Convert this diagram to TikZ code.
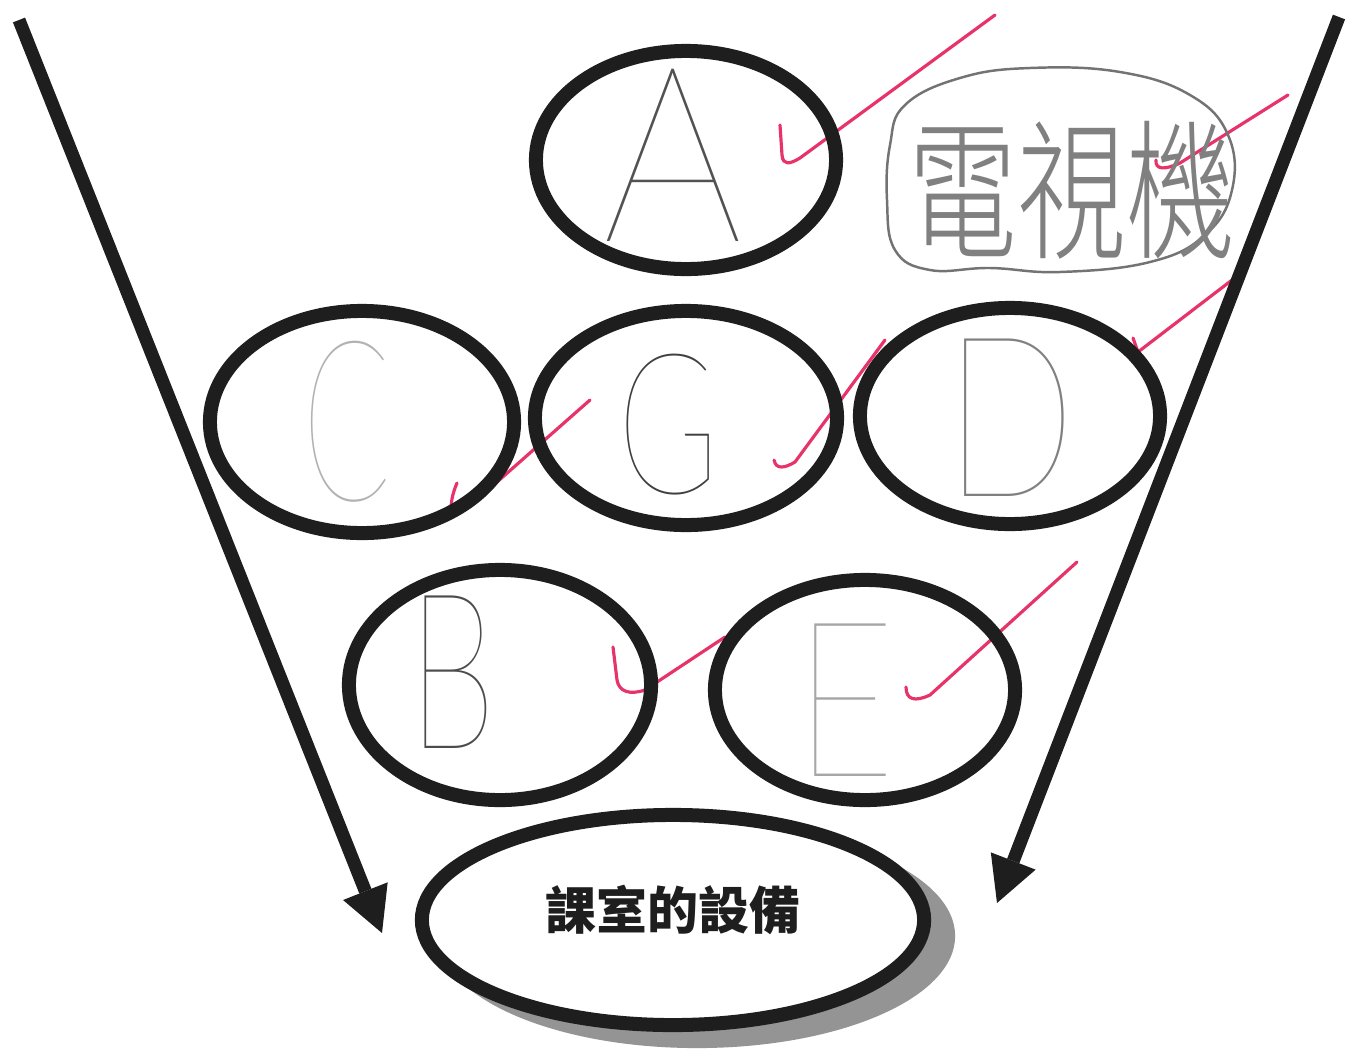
\documentclass[tikz,border=0pt]{standalone}
\usepackage{fontspec}
\usepackage{graphicx}
\usetikzlibrary{shapes.geometric,arrows.meta}
\IfFontExistsTF{Lato Hairline}{\newfontfamily\handfont{Lato Hairline}}{%
 \IfFontExistsTF{Lato Light}{\newfontfamily\handfont{Lato Light}}{%
  \IfFontExistsTF{Fira Sans Light}{\newfontfamily\handfont{Fira Sans Light}}{%
   \newfontfamily\handfont{Liberation Sans}}}}
\IfFontExistsTF{Noto Sans CJK TC Light}{\newfontfamily\cjklight{Noto Sans CJK TC Light}}{%
 \IfFontExistsTF{Noto Sans CJK TC DemiLight}{\newfontfamily\cjklight{Noto Sans CJK TC DemiLight}}{%
  \newfontfamily\cjklight{Noto Sans CJK TC}}}
\newfontfamily\cjk{Noto Sans CJK TC}
\definecolor{ink}{HTML}{1E1E1E}
\definecolor{redpen}{HTML}{E8336A}
\begin{document}
\begin{tikzpicture}[x=0.01cm,y=-0.01cm,
  ring/.style={draw=ink, line width=0.14cm, ellipse, inner sep=0pt},
  bigarrow/.style={draw=ink, line width=0.13cm, -{Triangle[length=0.45cm,width=0.48cm,line width=0pt]}},
  tick/.style={draw=redpen, line width=0.9pt, line cap=round, line join=round},
  pencil/.style={inner sep=0pt}
]
\useasboundingbox[fill=white] (0,0) rectangle (1351,1054);

% red check marks (under the rings)
\draw[tick] (780,125) -- (782,155) .. controls (783,166) and (790,164) .. (800,158) -- (995,15);
\draw[tick] (1156,160) .. controls (1155,170) and (1165,170) .. (1180,163) -- (1288,95);
\draw[tick] (1133,338) -- (1138,352) -- (1232,280);
\draw[tick] (774,460) .. controls (776,470) and (785,468) .. (795,462) -- (885,340);
\draw[tick] (457,483) .. controls (452,495) and (450,505) .. (452,513) .. controls (460,512) and (470,505) .. (480,497) -- (590,400);
\draw[tick] (613,647) -- (617,680) .. controls (619,692) and (630,695) .. (645,690) -- (725,637);
\draw[tick] (906,687) .. controls (906,700) and (915,702) .. (930,695) -- (1077,562);

% rings
\node[ring, minimum width=3.00cm, minimum height=2.18cm] (A) at (686,160) {};
\node[ring, minimum width=3.04cm, minimum height=2.22cm] (C) at (362,422) {};
\node[ring, minimum width=3.02cm, minimum height=2.14cm] (G) at (686,418) {};
\node[ring, minimum width=3.00cm, minimum height=2.16cm] (D) at (1010,416) {};
\node[ring, minimum width=3.02cm, minimum height=2.30cm] (B) at (500,685) {};
\node[ring, minimum width=3.00cm, minimum height=2.20cm] (E) at (865,690) {};

% pencil letters
\node[pencil, text=black!68, font=\handfont\fontsize{70}{70}\selectfont] (tA) at (673,155) {\scalebox{0.9}[1]{A}};
\node[pencil, text=black!30, font=\handfont\fontsize{64}{64}\selectfont] (tC) at (347,422) {\scalebox{0.58}[1]{C}};
\node[pencil, text=black!75, font=\handfont\fontsize{56}{56}\selectfont] (tG) at (668,425) {\scalebox{0.7}[1]{G}};
\node[pencil, text=black!50, font=\handfont\fontsize{64}{64}\selectfont] (tD) at (1010,418) {\scalebox{0.77}[1]{D}};
\node[pencil, text=black!70, font=\handfont\fontsize{62}{62}\selectfont] (tB) at (452,672) {\scalebox{0.65}[1]{B}};
\node[pencil, text=black!35, font=\handfont\fontsize{62}{62}\selectfont] (tE) at (845,700) {\scalebox{0.8}[1]{E}};

% pencil cloud with TV
\draw[draw=black!55, line width=0.7pt] plot[smooth cycle, tension=0.7] coordinates {(905,105) (960,78) (1030,68) (1120,72) (1190,95) (1228,135) (1232,190) (1205,235) (1150,262) (1060,272) (990,268) (930,270) (895,250) (887,200) (890,145)};
\node[pencil, text=black!50, font=\cjklight\fontsize{43}{43}\selectfont] (tv) at (1072,190) {\scalebox{0.72}[1]{電視機}};

% big arrows
\coordinate (L1) at (19,20);
\coordinate (L2) at (382,933);
\coordinate (R1) at (1339,17);
\coordinate (R2) at (997,903);
\draw[bigarrow] (L1) -- (L2);
\draw[bigarrow] (R1) -- (R2);

% base ellipse with shadow
\node[ellipse, inner sep=0pt, fill=black!42, minimum width=5.16cm, minimum height=2.24cm] (shadow) at (697,936) {};
\node[ring, fill=white, minimum width=5.02cm, minimum height=2.10cm] (base) at (673,920) {};
\node[font=\cjk\bfseries\fontsize{14.5}{14.5}\selectfont, text=ink] (title) at (673,910) {課室的設備};
\end{tikzpicture}
\end{document}
